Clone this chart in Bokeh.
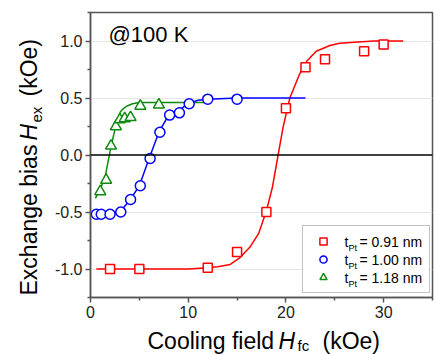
import math
from bokeh.plotting import figure
from bokeh.layouts import row, column
from bokeh.models import (Range1d, FixedTicker, Label, Span, Legend, LegendItem,
                          PrintfTickFormatter, BoxAnnotation)
from bokeh.embed import file_html
from bokeh.resources import INLINE

# ---- data ----
hfc_091 = [2, 5, 12, 15, 18, 20, 22, 24, 28, 30]
hex_091 = [-1.00, -1.00, -0.99, -0.85, -0.50, 0.41, 0.77, 0.84, 0.91, 0.97]

hfc_100 = [0.6, 1.1, 2.0, 3.1, 4.1, 5.1, 6.1, 7.1, 8.1, 9.1, 10.1, 12.0, 15.0]
hex_100 = [-0.52, -0.52, -0.52, -0.50, -0.39, -0.27, -0.03, 0.20, 0.35, 0.37, 0.45, 0.49, 0.49]

hfc_118 = [1.0, 1.6, 2.1, 2.6, 3.0, 3.5, 4.1, 5.1, 7.0]
hex_118 = [-0.32, -0.22, 0.08, 0.25, 0.31, 0.32, 0.33, 0.43, 0.44]

# fitted curves
fit_x_091 = [0.6, 5, 10, 12, 13, 14.3, 15.3, 16.3, 17.2, 18.0, 18.6, 19.2, 19.7, 20.4, 21.4, 22.1, 23.1, 24.5, 25.5, 27, 29, 32]
fit_y_091 = [-1.0, -1.0, -1.0, -0.99, -0.98, -0.96, -0.90, -0.81, -0.69, -0.49, -0.29, 0.0, 0.24, 0.50, 0.71, 0.82, 0.91, 0.96, 0.98, 0.99, 1.0, 1.0]

fit_x_100 = [0.5, 1, 2, 3, 4, 5, 6, 7, 8, 9, 10, 11, 12, 15, 22]
fit_y_100 = [-0.53, -0.52, -0.52, -0.50, -0.40, -0.27, -0.03, 0.20, 0.35, 0.39, 0.45, 0.48, 0.49, 0.50, 0.50]

fit_x_118 = [0.5, 1.0, 1.5, 2.0, 2.3, 2.55, 2.8, 3.06, 3.4, 3.75, 4.3, 5.0, 8.0, 12.0]
fit_y_118 = [-0.38, -0.30, -0.19, 0.03, 0.15, 0.24, 0.32, 0.38, 0.41, 0.43, 0.45, 0.46, 0.46, 0.46]

x_ticks = [0, 10, 20, 30]
x_minor = [5, 15, 25, 35]
y_ticks = [-1.0, -0.5, 0.0, 0.5, 1.0]
y_minor = [-1.25, -0.75, -0.25, 0.25, 0.75, 1.25]
legend_values = ["= 0.91 nm", "= 1.00 nm", "= 1.18 nm"]

RED = "#ff0000"
BLUE = "#0000ff"
GREEN = "#108a10"
FONT = "Liberation Sans"
AX = "#555555"

LW = 50      # width of the left strip holding the y label
TOPH = 322   # height of the main figure

p = figure(width=436 - LW, height=TOPH, output_backend="svg", toolbar_location=None,
           x_range=Range1d(0, 35), y_range=Range1d(-1.25, 1.25),
           min_border_left=90 - LW, min_border_top=12, min_border_right=4,
           min_border_bottom=TOPH - 297)
p.background_fill_color = "white"
p.border_fill_color = "white"
p.outline_line_color = AX
p.outline_line_width = 1.5

p.xgrid.visible = False
p.ygrid.ticker = FixedTicker(ticks=[-1.0, -0.5, 0.5, 1.0])
p.ygrid.grid_line_color = "#e6e6e6"
p.ygrid.grid_line_width = 1

for ax in (p.xaxis[0], p.yaxis[0]):
    ax.axis_line_color = AX
    ax.axis_line_width = 1.5
    ax.major_tick_line_color = AX
    ax.minor_tick_line_color = AX
    ax.major_tick_line_width = 1.5
    ax.minor_tick_line_width = 1.5
    ax.major_tick_in = 0
    ax.major_tick_out = 5
    ax.minor_tick_in = 0
    ax.minor_tick_out = 3
    ax.major_label_text_font = FONT
    ax.major_label_text_font_size = "16px"
    ax.major_label_text_color = "#222222"
    ax.major_label_standoff = 3

p.xaxis[0].ticker = FixedTicker(ticks=x_ticks, minor_ticks=x_minor)
p.yaxis[0].ticker = FixedTicker(ticks=y_ticks, minor_ticks=y_minor)
p.yaxis[0].formatter = PrintfTickFormatter(format="%.1f")

# white background of the legend box (hides the grid line behind it)
p.add_layout(BoxAnnotation(left=302 - LW, right=428 - LW, top=227, bottom=293,
                           left_units="canvas", right_units="canvas",
                           top_units="canvas", bottom_units="canvas",
                           fill_color="white", fill_alpha=1, line_color=None,
                           level="underlay"))

p.add_layout(Span(location=0, dimension="width", line_color="black", line_width=1.5))

# fitted curves
p.line(fit_x_091, fit_y_091, line_color=RED, line_width=1.5)
p.line(fit_x_100, fit_y_100, line_color=BLUE, line_width=1.5)
p.line(fit_x_118, fit_y_118, line_color=GREEN, line_width=1.5)

r1 = p.scatter(hfc_091, hex_091, marker="square", size=9, fill_color="white",
               line_color=RED, line_width=1.5)
r2 = p.scatter(hfc_100, hex_100, marker="circle", size=10, fill_color="white",
               line_color=BLUE, line_width=1.5)
r3 = p.scatter(hfc_118, hex_118, marker="triangle", size=11, fill_color="white",
               line_color=GREEN, line_width=1.5)

legend = Legend(items=[LegendItem(label=" ", renderers=[r1]),
                       LegendItem(label=" ", renderers=[r2]),
                       LegendItem(label=" ", renderers=[r3])],
                location=(212, 4), margin=0, padding=6, spacing=0,
                glyph_width=28, glyph_height=18, label_standoff=8,
                label_width=78, label_height=18,
                border_line_color="#888888", border_line_width=1,
                background_fill_alpha=0,
                label_text_font_size="10px")
p.add_layout(legend)


def lab(fig, text, x, y, size, italic=False, angle=0.0):
    fig.add_layout(Label(text=text, x=x, y=y, x_units="canvas", y_units="canvas",
                         text_font=FONT, text_font_size=f"{size}px", text_color="black",
                         text_font_style="italic" if italic else "normal",
                         text_align="left", text_baseline="alphabetic", angle=angle))


def off(size):
    # the rendered baseline sits lower than the anchor by about this much
    return round(0.36 * size)


# legend texts (main-figure canvas coordinates)
for i, t in enumerate(legend_values):
    yb = 246 + 18 * i
    lab(p, "t", 344 - LW, yb - off(14), 14)
    lab(p, "Pt", 348 - LW, yb + 4 - off(9), 9)
    lab(p, t, 359 - LW, yb - off(14), 14)

# annotation
lab(p, "@100 K", 108 - LW, 42 - off(22), 22)


def blank(w, h):
    f = figure(width=w, height=h, output_backend="svg", toolbar_location=None,
               x_range=Range1d(0, 1), y_range=Range1d(0, 1),
               x_axis_location=None, y_axis_location=None, min_border=0)
    f.grid.visible = False
    f.outline_line_color = None
    f.background_fill_color = "white"
    f.border_fill_color = "white"
    return f


# y axis label strip (left)
left = blank(LW, TOPH)
A = math.pi / 2
lab(left, "Exchange bias", 36 - off(23), 295, 23, angle=A)
lab(left, "H", 36 - off(23), 140, 23, italic=True, angle=A)
lab(left, "ex", 41 - off(15), 122, 15, angle=A)
lab(left, "(kOe)", 36 - off(23), 96, 23, angle=A)

# x axis label strip (bottom)
BH = 354 - TOPH
bottom = blank(436, BH)
lab(bottom, "Cooling field", 147, 348 - TOPH - off(23), 23)
lab(bottom, "H", 278, 348 - TOPH - off(23), 23, italic=True)
lab(bottom, "fc", 297, 350 - TOPH - off(15), 15)
lab(bottom, "(kOe)", 322, 348 - TOPH - off(23), 23)

layout = column(row(left, p, spacing=0), bottom, spacing=0)

open("out.html", "w").write(file_html(layout, INLINE))
